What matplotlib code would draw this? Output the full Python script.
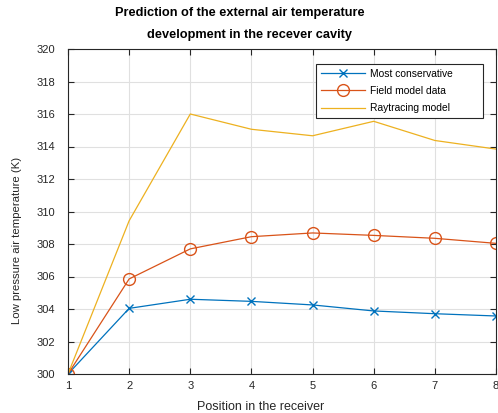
import matplotlib
matplotlib.use("Agg")
import matplotlib.pyplot as plt

plt.rcParams['font.family'] = ['Liberation Sans', 'DejaVu Sans']

# positions along the receiver and the three temperature predictions (K)
positions = [1, 2, 3, 4, 5, 6, 7, 8]
most_conservative = [300.0, 304.04, 304.6, 304.47, 304.25, 303.88, 303.71, 303.57]
field_model = [300.0, 305.85, 307.7, 308.45, 308.68, 308.53, 308.35, 308.04]
raytracing = [300.0, 309.43, 316.0, 315.06, 314.66, 315.55, 314.37, 313.84]

x_ticks = [1, 2, 3, 4, 5, 6, 7, 8]
y_ticks = [300, 302, 304, 306, 308, 310, 312, 314, 316, 318, 320]

W, H = 498, 413
fig = plt.figure(figsize=(W / 100, H / 100), dpi=100)
ax = fig.add_axes([68 / W, 1 - 374 / H, (496 - 68) / W, (374 - 49) / H])

ax.plot(positions, most_conservative, color='#0072BD', lw=0.9, marker='x',
        ms=6, mew=1.0, label='Most conservative')
ax.plot(positions, field_model, color='#D95319', lw=0.9, marker='o',
        ms=8.5, mfc='none', mew=1.0, label='Field model data')
ax.plot(positions, raytracing, color='#EDB120', lw=0.9,
        label='Raytracing model')

ax.set_xlim(1, 8)
ax.set_ylim(300, 320)
ax.set_xticks(x_ticks)
ax.set_yticks(y_ticks)
ax.grid(True, color='#e0e0e0', lw=0.8)
ax.set_axisbelow(True)
ax.tick_params(direction='in', length=4, width=0.8, labelsize=8,
               colors='#262626', top=True, right=True)
ax.tick_params(axis='x', pad=5)
ax.tick_params(axis='y', pad=9)
for s in ax.spines.values():
    s.set_color('#262626')
    s.set_linewidth(0.8)

ax.set_xlabel('Position in the receiver', fontsize=9, color='#262626')
ax.xaxis.set_label_coords((261 - 68) / (496 - 68), -(401 - 374) / (374 - 49))
ax.set_ylabel('Low pressure air temperature (K)', fontsize=8.2, color='#262626')
ax.yaxis.set_label_coords(-(68 - 22) / (496 - 68), (374 - 240) / (374 - 49))

fig.text(240 / W, 1 - 13 / H, 'Prediction of the external air temperature',
         ha='center', va='center', fontsize=9.2, fontweight='bold')
fig.text(249 / W, 1 - 35 / H, 'development in the recever cavity',
         ha='center', va='center', fontsize=9.2, fontweight='bold')

# legend box stretched to a fixed width, entries kept on the left
lx0 = (316 - 68) / (496 - 68)
lx1 = (483 - 68) / (496 - 68)
ly1 = (374 - 64) / (374 - 49)
leg = ax.legend(loc='upper left', bbox_to_anchor=(lx0, ly1 - 0.2, lx1 - lx0, 0.2),
                mode='expand', borderaxespad=0,
                fontsize=7.4, frameon=True, fancybox=False, edgecolor='#262626',
                framealpha=1, borderpad=0.45, handlelength=4.3,
                handletextpad=0.5, labelspacing=0.72)
leg.get_frame().set_linewidth(0.8)

fig.savefig('out.png', dpi=100)
